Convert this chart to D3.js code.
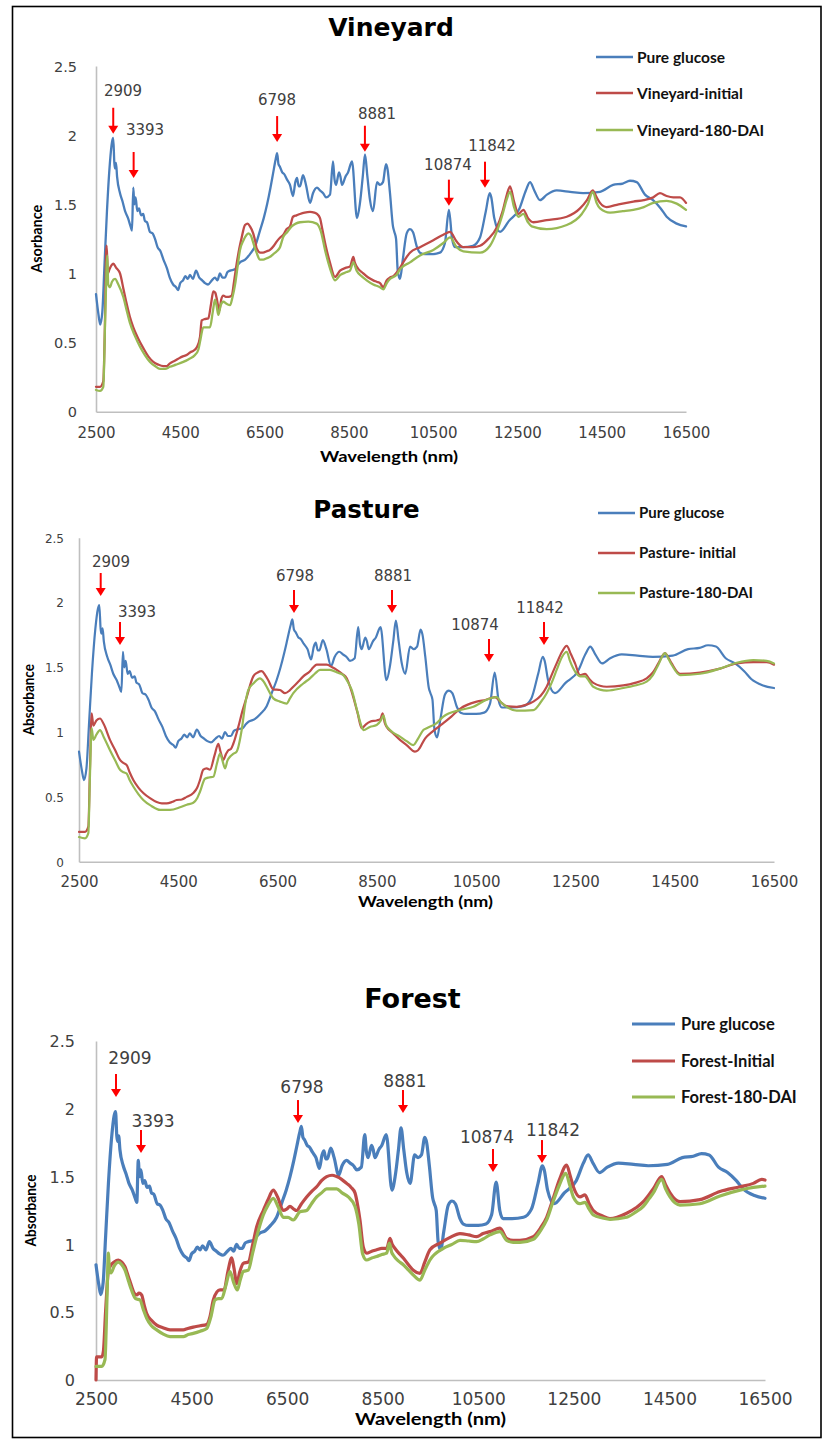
<!DOCTYPE html>
<html>
<head>
<meta charset="utf-8">
<script src="https://cdn.jsdelivr.net/npm/d3@7"></script>
<style>
  html, body { margin: 0; padding: 0; background: #fff; }
  svg { display: block; }
</style>
</head>
<body>
<svg id="chart" width="822" height="1439"></svg>
<script>
// ---- data: [wavelength (nm), absorbance] ----
const glucose = [[2500,0.85],[2560,0.70],[2600,0.63],[2650,0.72],[2700,1.05],[2760,1.45],[2830,1.80],[2880,1.95],[2909,1.98],[2935,1.80],[2950,1.76],[2975,1.80],[3000,1.70],[3070,1.58],[3130,1.52],[3190,1.45],[3260,1.40],[3320,1.34],[3354,1.31],[3385,1.62],[3410,1.50],[3440,1.55],[3480,1.45],[3520,1.47],[3570,1.42],[3620,1.43],[3660,1.38],[3710,1.37],[3780,1.30],[3840,1.29],[3900,1.25],[3960,1.19],[4030,1.16],[4100,1.10],[4180,1.04],[4250,0.97],[4330,0.92],[4400,0.90],[4446,0.88],[4500,0.93],[4565,0.95],[4620,0.98],[4680,0.96],[4730,0.99],[4800,0.96],[4873,1.02],[4950,0.97],[5020,0.95],[5087,0.93],[5158,0.92],[5250,0.95],[5324,0.97],[5380,0.95],[5442,1.00],[5500,0.97],[5561,0.97],[5620,1.01],[5680,1.02],[5798,1.03],[5860,1.06],[5917,1.08],[6040,1.10],[6154,1.14],[6280,1.20],[6391,1.31],[6480,1.40],[6560,1.50],[6640,1.62],[6700,1.72],[6760,1.82],[6798,1.87],[6830,1.79],[6866,1.77],[6920,1.73],[6961,1.72],[7030,1.68],[7103,1.64],[7175,1.56],[7230,1.66],[7270,1.69],[7310,1.63],[7341,1.63],[7412,1.71],[7483,1.64],[7578,1.51],[7649,1.58],[7744,1.62],[7815,1.60],[7890,1.58],[7958,1.55],[8053,1.57],[8124,1.81],[8160,1.68],[8195,1.64],[8266,1.73],[8300,1.70],[8337,1.64],[8420,1.70],[8480,1.73],[8574,1.81],[8693,1.40],[8764,1.51],[8830,1.70],[8883,1.86],[8940,1.70],[9002,1.53],[9073,1.45],[9168,1.66],[9239,1.64],[9310,1.66],[9381,1.79],[9420,1.75],[9476,1.58],[9547,1.34],[9580,1.30],[9620,1.25],[9660,1.02],[9713,0.96],[9780,1.10],[9872,1.29],[9950,1.32],[10020,1.30],[10117,1.19],[10188,1.15],[10300,1.14],[10500,1.14],[10660,1.15],[10780,1.22],[10874,1.46],[10950,1.25],[11018,1.19],[11208,1.19],[11445,1.20],[11612,1.26],[11750,1.45],[11842,1.58],[11880,1.55],[11950,1.40],[12087,1.30],[12300,1.38],[12550,1.47],[12700,1.60],[12799,1.66],[12900,1.60],[13036,1.53],[13200,1.57],[13432,1.60],[13750,1.59],[14058,1.58],[14460,1.59],[14770,1.64],[15000,1.65],[15171,1.67],[15330,1.66],[15527,1.57],[15717,1.53],[15900,1.47],[16041,1.41],[16280,1.36],[16500,1.34]];

const vineyardInitial = [[2500,0.18],[2595,0.18],[2673,0.22],[2710,0.60],[2740,1.15],[2754,1.20],[2780,1.00],[2820,1.03],[2870,1.06],[2911,1.07],[2980,1.04],[3070,1.00],[3150,0.89],[3228,0.78],[3300,0.69],[3385,0.61],[3500,0.53],[3622,0.46],[3740,0.40],[3859,0.36],[3980,0.34],[4097,0.33],[4180,0.33],[4255,0.35],[4380,0.37],[4493,0.39],[4560,0.40],[4650,0.41],[4740,0.43],[4809,0.44],[4900,0.47],[4968,0.54],[5008,0.66],[5080,0.67],[5165,0.675],[5230,0.78],[5284,0.87],[5330,0.86],[5364,0.82],[5426,0.73],[5470,0.81],[5521,0.84],[5580,0.83],[5640,0.83],[5719,0.84],[5780,0.95],[5838,1.07],[5900,1.18],[5957,1.26],[6036,1.35],[6100,1.36],[6154,1.34],[6230,1.29],[6273,1.24],[6313,1.18],[6400,1.15],[6463,1.15],[6550,1.16],[6629,1.17],[6720,1.20],[6787,1.23],[6870,1.26],[6945,1.28],[7020,1.32],[7103,1.34],[7175,1.41],[7260,1.42],[7341,1.43],[7450,1.44],[7578,1.445],[7680,1.44],[7744,1.43],[7815,1.40],[7863,1.33],[7950,1.20],[8050,1.08],[8171,0.975],[8290,1.02],[8420,1.04],[8527,1.05],[8606,1.12],[8640,1.08],[8685,1.05],[8843,1.00],[8960,0.97],[9080,0.95],[9160,0.94],[9239,0.93],[9318,0.90],[9397,0.95],[9476,0.97],[9555,0.98],[9713,1.04],[9830,1.10],[9950,1.15],[10188,1.19],[10504,1.24],[10741,1.28],[10900,1.30],[11058,1.23],[11216,1.19],[11450,1.19],[11612,1.20],[11810,1.25],[12007,1.33],[12150,1.45],[12250,1.57],[12324,1.63],[12420,1.52],[12522,1.43],[12641,1.46],[12750,1.40],[12878,1.37],[13195,1.385],[13670,1.41],[13985,1.47],[14150,1.53],[14287,1.60],[14380,1.55],[14460,1.51],[14617,1.48],[14900,1.50],[15249,1.52],[15500,1.53],[15724,1.55],[15882,1.58],[16040,1.56],[16199,1.55],[16358,1.55],[16500,1.51]];

const vineyard180 = [[2500,0.157],[2595,0.15],[2673,0.18],[2720,0.70],[2768,1.13],[2790,0.92],[2830,0.90],[2880,0.94],[2951,0.96],[3030,0.92],[3148,0.83],[3230,0.73],[3307,0.64],[3420,0.55],[3544,0.47],[3660,0.41],[3781,0.36],[3900,0.33],[4018,0.31],[4140,0.31],[4255,0.325],[4400,0.34],[4571,0.36],[4700,0.38],[4849,0.41],[4930,0.45],[4968,0.505],[5047,0.61],[5130,0.61],[5205,0.61],[5270,0.72],[5324,0.81],[5360,0.77],[5403,0.70],[5460,0.77],[5521,0.795],[5600,0.78],[5680,0.77],[5740,0.83],[5798,0.915],[5860,1.05],[5917,1.17],[6000,1.24],[6075,1.28],[6114,1.29],[6180,1.27],[6233,1.22],[6310,1.15],[6391,1.10],[6470,1.10],[6550,1.11],[6630,1.12],[6708,1.14],[6790,1.16],[6866,1.19],[6945,1.265],[7040,1.30],[7143,1.34],[7240,1.36],[7341,1.37],[7540,1.375],[7736,1.36],[7790,1.34],[7830,1.31],[7950,1.15],[8060,1.03],[8171,0.95],[8300,0.99],[8450,1.01],[8527,1.02],[8606,1.08],[8685,1.02],[8800,0.98],[8922,0.95],[9080,0.92],[9239,0.90],[9318,0.885],[9400,0.93],[9476,0.96],[9634,0.99],[9713,1.03],[9950,1.08],[10188,1.13],[10504,1.17],[10741,1.22],[10900,1.26],[11058,1.19],[11216,1.16],[11612,1.15],[11849,1.20],[12007,1.30],[12150,1.43],[12250,1.54],[12324,1.59],[12420,1.48],[12522,1.41],[12641,1.43],[12750,1.37],[12839,1.34],[13195,1.32],[13670,1.35],[14027,1.43],[14170,1.50],[14287,1.59],[14380,1.51],[14460,1.47],[14697,1.44],[15000,1.45],[15249,1.46],[15500,1.48],[15724,1.51],[16041,1.525],[16280,1.505],[16500,1.46]];

const pastureInitial = [[2500,0.23],[2621,0.23],[2688,0.27],[2720,0.70],[2755,1.145],[2790,1.05],[2850,1.09],[2923,1.105],[3000,1.06],[3124,0.94],[3230,0.86],[3326,0.785],[3400,0.76],[3461,0.745],[3520,0.69],[3594,0.63],[3700,0.57],[3795,0.53],[3930,0.49],[4065,0.46],[4170,0.45],[4267,0.45],[4370,0.46],[4468,0.476],[4570,0.48],[4670,0.50],[4802,0.53],[4880,0.57],[4937,0.63],[5004,0.71],[5070,0.72],[5139,0.71],[5230,0.82],[5306,0.91],[5350,0.85],[5407,0.785],[5460,0.83],[5508,0.86],[5560,0.87],[5608,0.91],[5709,1.04],[5790,1.16],[5878,1.27],[6011,1.43],[6100,1.46],[6180,1.47],[6250,1.44],[6313,1.40],[6414,1.33],[6549,1.325],[6650,1.30],[6740,1.32],[6817,1.35],[6920,1.39],[7018,1.43],[7153,1.47],[7220,1.50],[7288,1.52],[7489,1.52],[7600,1.50],[7691,1.48],[7800,1.45],[7893,1.415],[7960,1.35],[8025,1.27],[8110,1.15],[8195,1.03],[8280,1.06],[8362,1.08],[8496,1.09],[8570,1.10],[8617,1.145],[8660,1.07],[8698,1.04],[8830,0.99],[8966,0.94],[9100,0.90],[9268,0.85],[9330,0.86],[9470,0.95],[9638,1.01],[9839,1.07],[10000,1.12],[10175,1.18],[10511,1.235],[10700,1.25],[10880,1.27],[11000,1.23],[11115,1.20],[11317,1.195],[11500,1.21],[11652,1.235],[11800,1.28],[11921,1.35],[12020,1.44],[12122,1.53],[12230,1.62],[12324,1.665],[12410,1.60],[12492,1.53],[12592,1.44],[12693,1.45],[12780,1.41],[12860,1.38],[13129,1.35],[13465,1.36],[13700,1.38],[13935,1.415],[14060,1.46],[14170,1.53],[14304,1.61],[14380,1.57],[14439,1.53],[14607,1.45],[15010,1.46],[15413,1.49],[15749,1.53],[16085,1.54],[16353,1.54],[16500,1.52]];

const pasture180 = [[2500,0.19],[2621,0.18],[2688,0.22],[2720,0.65],[2755,1.03],[2790,0.94],[2850,0.98],[2923,1.016],[3000,0.96],[3124,0.86],[3230,0.78],[3326,0.71],[3400,0.69],[3461,0.68],[3520,0.63],[3594,0.58],[3700,0.52],[3795,0.476],[3960,0.43],[4132,0.40],[4333,0.40],[4535,0.42],[4670,0.44],[4802,0.455],[4880,0.49],[4937,0.54],[5038,0.64],[5120,0.65],[5205,0.655],[5280,0.76],[5340,0.835],[5390,0.78],[5441,0.72],[5490,0.78],[5542,0.81],[5600,0.83],[5676,0.85],[5777,1.016],[5850,1.22],[5911,1.325],[6011,1.375],[6146,1.415],[6220,1.39],[6280,1.35],[6414,1.26],[6549,1.235],[6683,1.22],[6750,1.26],[6817,1.30],[7018,1.375],[7153,1.415],[7250,1.45],[7355,1.48],[7556,1.48],[7700,1.46],[7825,1.44],[7910,1.39],[7993,1.325],[8100,1.17],[8195,1.04],[8227,1.016],[8360,1.04],[8496,1.055],[8580,1.09],[8631,1.13],[8680,1.06],[8765,1.016],[8966,0.965],[9100,0.93],[9234,0.90],[9330,0.95],[9436,1.016],[9503,1.03],[9705,1.07],[9839,1.12],[10175,1.17],[10444,1.195],[10712,1.25],[10914,1.27],[11000,1.23],[11115,1.195],[11317,1.165],[11652,1.17],[11800,1.23],[11921,1.30],[12020,1.38],[12122,1.48],[12230,1.58],[12324,1.62],[12390,1.55],[12458,1.49],[12592,1.43],[12693,1.43],[12780,1.39],[12860,1.35],[13129,1.32],[13465,1.34],[13700,1.36],[13935,1.39],[14060,1.44],[14170,1.52],[14304,1.61],[14380,1.56],[14439,1.52],[14607,1.44],[15010,1.45],[15413,1.49],[15749,1.535],[16085,1.556],[16353,1.55],[16500,1.53]];

const forestInitial = [[2500,0.0],[2512,0.17],[2620,0.17],[2654,0.21],[2700,0.50],[2758,0.80],[2800,0.84],[2880,0.87],[2967,0.885],[3040,0.87],[3107,0.835],[3180,0.76],[3247,0.69],[3300,0.64],[3352,0.627],[3400,0.64],[3456,0.627],[3510,0.55],[3561,0.49],[3660,0.44],[3770,0.405],[3900,0.385],[4049,0.37],[4200,0.37],[4327,0.37],[4420,0.38],[4536,0.39],[4680,0.40],[4817,0.41],[4880,0.46],[4955,0.59],[5030,0.65],[5095,0.665],[5180,0.665],[5260,0.80],[5340,0.90],[5390,0.82],[5444,0.71],[5510,0.80],[5583,0.86],[5688,0.87],[5780,1.00],[5863,1.13],[6001,1.25],[6100,1.33],[6210,1.40],[6300,1.35],[6419,1.25],[6490,1.26],[6559,1.28],[6640,1.26],[6699,1.25],[6800,1.30],[6908,1.35],[7010,1.39],[7118,1.425],[7220,1.47],[7327,1.50],[7440,1.51],[7536,1.50],[7640,1.48],[7746,1.45],[7840,1.42],[7920,1.38],[7980,1.28],[8024,1.18],[8094,0.98],[8164,0.935],[8270,0.95],[8373,0.96],[8480,0.97],[8583,0.97],[8652,1.045],[8700,1.00],[8757,0.97],[8850,0.93],[8931,0.90],[9040,0.85],[9140,0.81],[9280,0.787],[9380,0.87],[9489,0.96],[9699,1.01],[9900,1.05],[10117,1.08],[10300,1.07],[10466,1.057],[10600,1.08],[10745,1.094],[10954,1.12],[11094,1.045],[11230,1.03],[11373,1.03],[11652,1.057],[11800,1.12],[11931,1.20],[12050,1.32],[12200,1.48],[12349,1.585],[12420,1.51],[12489,1.425],[12628,1.35],[12733,1.365],[12820,1.30],[12907,1.25],[13100,1.21],[13256,1.19],[13605,1.23],[13800,1.27],[13954,1.315],[14080,1.37],[14163,1.41],[14337,1.50],[14420,1.44],[14512,1.38],[14721,1.315],[15139,1.33],[15557,1.39],[15976,1.425],[16255,1.45],[16430,1.48],[16500,1.475]];

const forest180 = [[2500,0.10],[2620,0.10],[2688,0.15],[2730,0.60],[2758,0.935],[2785,0.80],[2814,0.79],[2880,0.84],[2967,0.87],[3040,0.85],[3107,0.81],[3180,0.73],[3247,0.66],[3330,0.60],[3421,0.59],[3490,0.52],[3561,0.455],[3660,0.40],[3770,0.37],[3900,0.34],[4049,0.32],[4200,0.32],[4327,0.32],[4430,0.335],[4536,0.344],[4680,0.36],[4817,0.38],[4900,0.46],[4990,0.59],[5060,0.60],[5130,0.60],[5220,0.70],[5304,0.80],[5380,0.72],[5457,0.664],[5520,0.74],[5583,0.80],[5688,0.81],[5780,0.94],[5863,1.057],[6001,1.217],[6100,1.29],[6210,1.34],[6320,1.27],[6419,1.20],[6520,1.20],[6629,1.18],[6768,1.24],[6908,1.25],[7010,1.30],[7118,1.35],[7220,1.38],[7327,1.41],[7536,1.41],[7650,1.38],[7780,1.35],[7920,1.28],[8000,1.15],[8080,0.93],[8164,0.885],[8270,0.90],[8373,0.91],[8480,0.925],[8583,0.935],[8637,1.01],[8690,0.94],[8722,0.92],[8820,0.88],[8931,0.85],[9040,0.81],[9140,0.774],[9280,0.737],[9380,0.81],[9489,0.885],[9768,0.97],[9950,1.00],[10117,1.03],[10300,1.025],[10466,1.02],[10600,1.04],[10745,1.07],[10954,1.094],[11094,1.03],[11230,1.015],[11373,1.015],[11652,1.038],[11800,1.10],[11931,1.18],[12050,1.30],[12200,1.44],[12328,1.524],[12420,1.43],[12489,1.35],[12628,1.30],[12733,1.31],[12820,1.26],[12907,1.217],[13100,1.195],[13256,1.185],[13605,1.20],[13800,1.24],[13954,1.28],[14080,1.34],[14163,1.38],[14337,1.48],[14420,1.41],[14512,1.35],[14721,1.29],[15139,1.30],[15557,1.357],[15976,1.40],[16255,1.42],[16500,1.43]];

// peak annotations: [label, arrow wavelength, arrow tip absorbance, label wavelength, label absorbance]
const vineyardPeaks = [["2909",2909,2.01,3141,2.28],["3393",3393,1.69,3663,2.00],["6798",6798,1.95,6795,2.215],["8881",8881,1.88,9168,2.12],["10874",10874,1.49,10852,1.75],["11842",11730,1.62,11897,1.884]];
const pasturePeaks = [["2909",2937,2.05,3145,2.274],["3393",3326,1.672,3668,1.888],["6798",6831,1.919,6851,2.167],["8881",8805,1.919,8825,2.167],["10874",10759,1.541,10477,1.788],["11842",11867,1.672,11787,1.919]];
const forestPeaks = [["2909",2919,2.087,3211,2.33],["3393",3442,1.674,3693,1.866],["6798",6727,1.895,6811,2.117],["8881",8924,1.969,8966,2.161],["10874",10808,1.534,10682,1.748],["11842",11833,1.60,12063,1.80]];

const xTicks = [2500,4500,6500,8500,10500,12500,14500,16500];
const yTicks = [0,0.5,1,1.5,2,2.5];
const seriesColors = ["#4A7EBB","#BE4B48","#98B954"];

const panels = [
  { title: "Vineyard", yTitle: "Asorbance", series: [glucose, vineyardInitial, vineyard180],
    names: ["Pure glucose","Vineyard-initial","Vineyard-180-DAI"], peaks: vineyardPeaks },
  { title: "Pasture", yTitle: "Absorbance", series: [glucose, pastureInitial, pasture180],
    names: ["Pure glucose","Pasture- initial","Pasture-180-DAI"], peaks: pasturePeaks },
  { title: "Forest", yTitle: "Absorbance", series: [glucose, forestInitial, forest180],
    names: ["Pure glucose","Forest-Initial","Forest-180-DAI"], peaks: forestPeaks }
];

// ---- layout of each panel ----
const layouts = [
  { left: 96, right: 686, top: 66, bottom: 411.7, titleX: 391, titleY: 36, titleSize: 25,
    xTickSize: 15, yTickSize: 14.5, xTickOff: 26, yTickGap: 19, lineW: 2.3,
    legX1: 596, legX2: 633, legTextX: 637, legY: [57, 93, 130], legSize: 15.5, legW: 2.5,
    xTitleX: 389, xTitleY: 462, xTitleLen: 138, xTitleSize: 16,
    yTitleX: 37, yTitleLen: 68, yTitleSize: 15, arrowLen: 26, annSize: 15 },
  { left: 79, right: 774, top: 537.7, bottom: 861.7, titleX: 366.5, titleY: 518, titleSize: 24.5,
    xTickSize: 15, yTickSize: 12, xTickOff: 25, yTickGap: 15, lineW: 2.2,
    legX1: 598, legX2: 635, legTextX: 639, legY: [513, 553, 593], legSize: 15, legW: 2.5,
    xTitleX: 425.5, xTitleY: 907, xTitleLen: 135, xTitleSize: 16,
    yTitleX: 29, yTitleLen: 71, yTitleSize: 15, arrowLen: 23, annSize: 15 },
  { left: 96, right: 765, top: 1041, bottom: 1380, titleX: 412.5, titleY: 1008, titleSize: 27,
    xTickSize: 17, yTickSize: 16, xTickOff: 25, yTickGap: 21, lineW: 3.2,
    legX1: 632, legX2: 675, legTextX: 681, legY: [1024, 1061, 1097], legSize: 16.5, legW: 3.2,
    xTitleX: 430.5, xTitleY: 1425, xTitleLen: 151, xTitleSize: 17.5,
    yTitleX: 30, yTitleLen: 72, yTitleSize: 15.5, arrowLen: 23, annSize: 17 }
];

const svg = d3.select("#chart");
const tickFont = "'DejaVu Sans', Verdana, sans-serif";
const labelFont = "Lato, 'Liberation Sans', sans-serif";

// outer frame
svg.append("rect")
  .attr("x", 12.5).attr("y", 6.5).attr("width", 808.5).attr("height", 1431)
  .attr("fill", "#fff").attr("stroke", "#000").attr("stroke-width", 1.6);

panels.forEach((p, i) => {
  const L = layouts[i];
  const g = svg.append("g");
  const x = d3.scaleLinear().domain([2500, 16500]).range([L.left, L.right]);
  const y = d3.scaleLinear().domain([0, 2.5]).range([L.bottom, L.top]);

  // axes
  const xAxis = g.append("g").attr("transform", `translate(0,${L.bottom})`)
    .call(d3.axisBottom(x).tickValues(xTicks).tickSize(0).tickSizeOuter(0).tickFormat(d => String(d)));
  xAxis.selectAll("text").attr("y", L.xTickOff).attr("dy", null)
    .attr("font-family", tickFont).attr("font-size", L.xTickSize).attr("fill", "#404040");

  const yAxis = g.append("g").attr("transform", `translate(${L.left},0)`)
    .call(d3.axisLeft(y).tickValues(yTicks).tickSize(0).tickSizeOuter(0).tickPadding(L.yTickGap).tickFormat(d => String(d)));
  yAxis.selectAll("text").attr("dy", "0.36em")
    .attr("font-family", tickFont).attr("font-size", L.yTickSize).attr("fill", "#404040");

  [xAxis, yAxis].forEach(a => a.select(".domain").attr("stroke", "#BFBFBF").attr("stroke-width", 1.6));

  // spectra
  const line = d3.line().x(d => x(d[0])).y(d => y(d[1])).curve(d3.curveMonotoneX);
  p.series.forEach((s, k) => {
    g.append("path").datum(s).attr("d", line)
      .attr("fill", "none").attr("stroke", seriesColors[k])
      .attr("stroke-width", L.lineW).attr("stroke-linejoin", "round").attr("stroke-linecap", "round");
  });

  // title
  g.append("text").attr("x", L.titleX).attr("y", L.titleY).attr("text-anchor", "middle")
    .attr("font-family", tickFont).attr("font-weight", "bold").attr("font-size", L.titleSize)
    .attr("fill", "#000").text(p.title);

  // axis titles
  g.append("text").attr("x", L.xTitleX).attr("y", L.xTitleY).attr("text-anchor", "middle")
    .attr("font-family", labelFont).attr("font-weight", "bold").attr("font-size", L.xTitleSize)
    .attr("textLength", L.xTitleLen).attr("lengthAdjust", "spacingAndGlyphs")
    .attr("fill", "#000").text("Wavelength (nm)");

  const cy = (L.top + L.bottom) / 2;
  g.append("text").attr("transform", `translate(${L.yTitleX},${cy}) rotate(-90)`)
    .attr("text-anchor", "middle").attr("dy", "0.36em")
    .attr("font-family", labelFont).attr("font-weight", "bold").attr("font-size", L.yTitleSize)
    .attr("textLength", L.yTitleLen).attr("lengthAdjust", "spacingAndGlyphs")
    .attr("fill", "#000").text(p.yTitle);

  // legend
  p.names.forEach((name, k) => {
    g.append("line").attr("x1", L.legX1).attr("x2", L.legX2)
      .attr("y1", L.legY[k]).attr("y2", L.legY[k])
      .attr("stroke", seriesColors[k]).attr("stroke-width", L.legW);
    g.append("text").attr("x", L.legTextX).attr("y", L.legY[k]).attr("dy", "0.36em")
      .attr("font-family", labelFont).attr("font-weight", "bold").attr("font-size", L.legSize)
      .attr("fill", "#111").text(name);
  });

  // peak arrows and labels
  p.peaks.forEach(([label, aw, tipA, lw, la]) => {
    const ax = x(aw), tipY = y(tipA), topY = tipY - L.arrowLen;
    const head = 8, half = 5;
    g.append("line").attr("x1", ax).attr("x2", ax).attr("y1", topY).attr("y2", tipY - head + 1)
      .attr("stroke", "#FF0000").attr("stroke-width", 2);
    g.append("path")
      .attr("d", `M${ax - half},${tipY - head} L${ax + half},${tipY - head} L${ax},${tipY} Z`)
      .attr("fill", "#FF0000");
    g.append("text").attr("x", x(lw)).attr("y", y(la)).attr("text-anchor", "middle")
      .attr("font-family", tickFont).attr("font-size", L.annSize).attr("fill", "#404040")
      .text(label);
  });
});
</script>
</body>
</html>
